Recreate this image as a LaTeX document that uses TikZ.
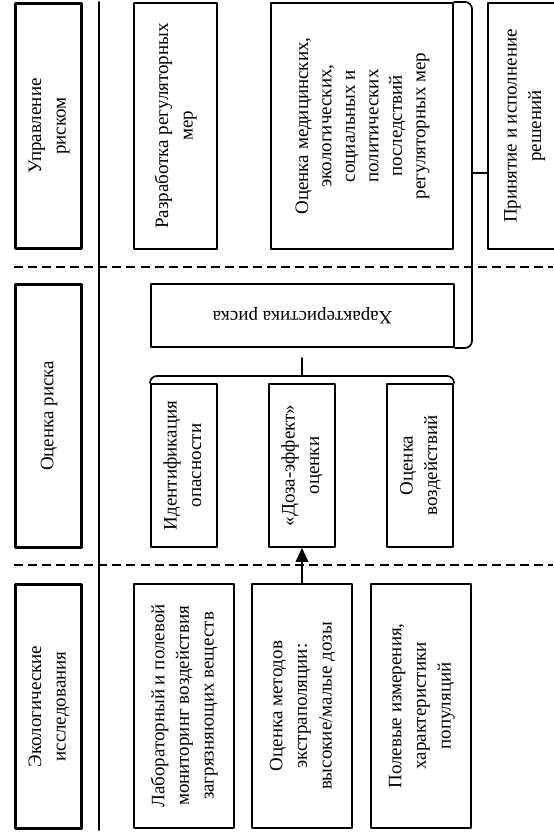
\documentclass[tikz,border=0pt]{standalone}
\usepackage{fontspec}
\setmainfont{Liberation Serif}
\usepackage{tikz}
\usetikzlibrary{arrows.meta}
\newcommand{\vtxt}[1]{\rotatebox{90}{\begin{tabular}{@{}c@{}}#1\end{tabular}}}
\newcommand{\utxt}[1]{\rotatebox{180}{#1}}

\begin{document}
\begin{tikzpicture}[line cap=round,line join=round,>={Triangle[length=10pt,width=9pt]},x=1.0cm,y=1.0cm,
    box/.style={draw,line width=1.2pt,inner sep=0pt,font=\fontsize{13.5}{17.5}\selectfont},
    headbox/.style={box,line width=2.6pt},
    sep/.style={line width=1.4pt,dash pattern=on 6.4pt off 3.6pt,line cap=butt}]
  \useasboundingbox (0,0) rectangle (13.825,20.9);
  \node[headbox,minimum width=1.65cm,minimum height=6.13cm] (hrisk) at (1.2125,17.75) {\vtxt{Управление\\риском}};
  \node[headbox,minimum width=1.65cm,minimum height=6.58cm] (hassess) at (1.2125,10.5) {\vtxt{Оценка риска}};
  \node[headbox,minimum width=1.65cm,minimum height=6.1cm] (hecol) at (1.2125,3.2375) {\vtxt{Экологические\\исследования}};
  \draw[line width=1.2pt] (2.475,20.85) -- (2.475,0.15);
  \foreach \y in {14.225,6.775}
  \draw[sep] (0.35,\y) -- (13.825,\y);
  \node[box,minimum width=2.08cm,minimum height=6.16cm] (dev) at (4.3875,17.75) {\vtxt{Разработка регуляторных\\мер}};
  \node[box,minimum width=4.56cm,minimum height=6.16cm,font=\fontsize{13.5}{16.7}\selectfont] (med) at (9.05,17.75) {\vtxt{Оценка медицинских,\\экологических,\\социальных и\\политических\\последствий\\регуляторных мер}};
  \node[box,minimum width=1.8cm,minimum height=6.16cm] (dec) at (13.1,17.75) {\vtxt{Принятие и исполнение\\решений}};
  \node[box,minimum width=7.58cm,minimum height=1.58cm] (char) at (7.5625,13.0125) {\utxt{Характеристика риска}};
  \node[box,minimum width=1.66cm,minimum height=4.08cm] (ident) at (4.6,9.2625) {\vtxt{Идентификация\\опасности}};
  \node[box,minimum width=1.66cm,minimum height=4.08cm] (dose) at (7.55,9.2625) {\vtxt{«Доза-эффект»\\оценки}};
  \node[box,minimum width=1.66cm,minimum height=4.08cm] (expo) at (10.5,9.2625) {\vtxt{Оценка\\воздействий}};
  \node[box,minimum width=2.51cm,minimum height=6.11cm] (lab) at (4.6,3.25) {\vtxt{Лабораторный и полевой\\мониторинг воздействия\\загрязняющих веществ}};
  \node[box,minimum width=2.51cm,minimum height=6.11cm] (meth) at (7.55,3.25) {\vtxt{Оценка методов\\экстраполяции:\\высокие/малые дозы}};
  \node[box,minimum width=2.51cm,minimum height=6.11cm] (field) at (10.525,3.25) {\vtxt{Полевые измерения,\\характеристики\\популяций}};
  \coordinate (br1) at (11.8,16.575);
  \draw[line width=1.2pt,rounded corners=5pt] (med.north east) -| (br1) |- (char.south east);
  \draw[line width=1.2pt] (br1) -- (br1 -| dec.west);
  \coordinate (br2) at (7.55,11.5);
  \coordinate (br2top) at (7.55,11.95);
  \draw[line width=1.2pt,rounded corners=5pt] (ident.north west) |- (br2) -| (expo.north east);
  \draw[line width=1.2pt] (br2) -- (br2top);
  \draw[->,line width=1.2pt] (meth.north) -- (dose.south);
\end{tikzpicture}
\end{document}
